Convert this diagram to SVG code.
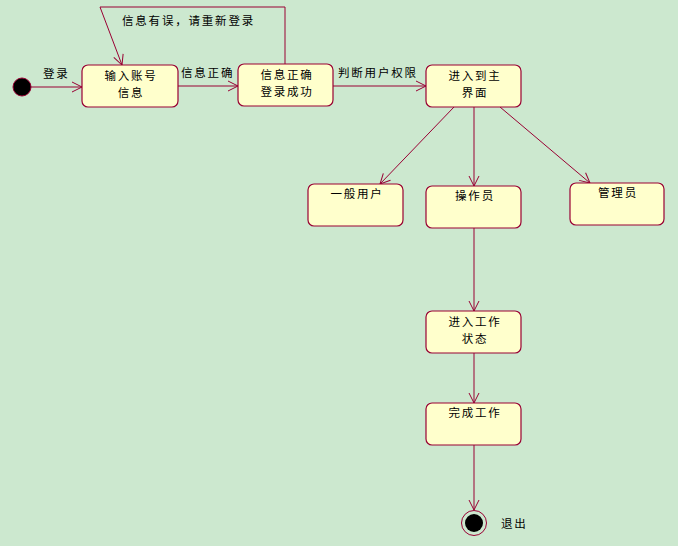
<svg xmlns="http://www.w3.org/2000/svg" width="678" height="546" viewBox="0 0 678 546">
<defs>
<marker id="arr" markerWidth="14" markerHeight="12" refX="11" refY="6" orient="auto" markerUnits="userSpaceOnUse">
<path d="M1,1 L11,6 L1,11" fill="none" stroke="#990033" stroke-width="1"/>
</marker>
<style>
.n{fill:#ffffcc;stroke:#990033;stroke-width:1.2}
.t{font-family:"Noto Sans CJK SC","Liberation Sans",sans-serif;font-size:11.5px;fill:#000;letter-spacing:1.8px}
.c{text-anchor:middle}
.e{fill:none;stroke:#990033;stroke-width:1;marker-end:url(#arr)}
</style>
</defs>
<rect width="678" height="546" fill="#cce8cf"/>
<g id="connectors">
<line class="e" x1="30" y1="87" x2="82" y2="87"/>
<line class="e" x1="178" y1="86" x2="238" y2="86"/>
<polyline class="e" points="285,64 285,7 100,7 122,65"/>
<line class="e" x1="333" y1="86" x2="426" y2="86"/>
<line class="e" x1="454" y1="107" x2="380" y2="184"/>
<line class="e" x1="474" y1="107" x2="474" y2="186"/>
<line class="e" x1="500" y1="107" x2="590" y2="183"/>
<line class="e" x1="474" y1="228" x2="474" y2="311"/>
<line class="e" x1="474" y1="353" x2="474" y2="403"/>
<line class="e" x1="474" y1="445" x2="474" y2="510"/>
<text class="t" x="43" y="78">登录</text>
<text class="t" x="181" y="77">信息正确</text>
<text class="t" x="122" y="25">信息有误，请重新登录</text>
<text class="t" x="338" y="77">判断用户权限</text>
</g>
<g id="start"><circle cx="22" cy="87" r="9" fill="#000" stroke="#990033" stroke-width="1"/></g>
<g id="n1"><rect class="n" x="82" y="65" width="96" height="42" rx="6"/><text class="t c" x="131" y="79.5">输入账号</text><text class="t c" x="131" y="96.5">信息</text></g>
<g id="n2"><rect class="n" x="238" y="64" width="95" height="42" rx="6"/><text class="t c" x="287" y="78.5">信息正确</text><text class="t c" x="287" y="95.5">登录成功</text></g>
<g id="n3"><rect class="n" x="426" y="65" width="95" height="42" rx="6"/><text class="t c" x="475" y="79.5">进入到主</text><text class="t c" x="475" y="96.5">界面</text></g>
<g id="n4"><rect class="n" x="308" y="184" width="95" height="42" rx="6"/><text class="t c" x="357" y="198">一般用户</text></g>
<g id="n5"><rect class="n" x="426" y="186" width="95" height="42" rx="6"/><text class="t c" x="475" y="200">操作员</text></g>
<g id="n6"><rect class="n" x="570" y="183" width="94" height="42" rx="6"/><text class="t c" x="618" y="197">管理员</text></g>
<g id="n7"><rect class="n" x="426" y="311" width="95" height="42" rx="6"/><text class="t c" x="475" y="325.5">进入工作</text><text class="t c" x="475" y="342.5">状态</text></g>
<g id="n8"><rect class="n" x="426" y="403" width="95" height="42" rx="6"/><text class="t c" x="475" y="417">完成工作</text></g>
<g id="end"><circle cx="474" cy="523" r="12.5" fill="none" stroke="#990033" stroke-width="1"/><circle cx="474" cy="523" r="9" fill="#000"/><text class="t" x="501" y="528">退出</text></g>
</svg>
